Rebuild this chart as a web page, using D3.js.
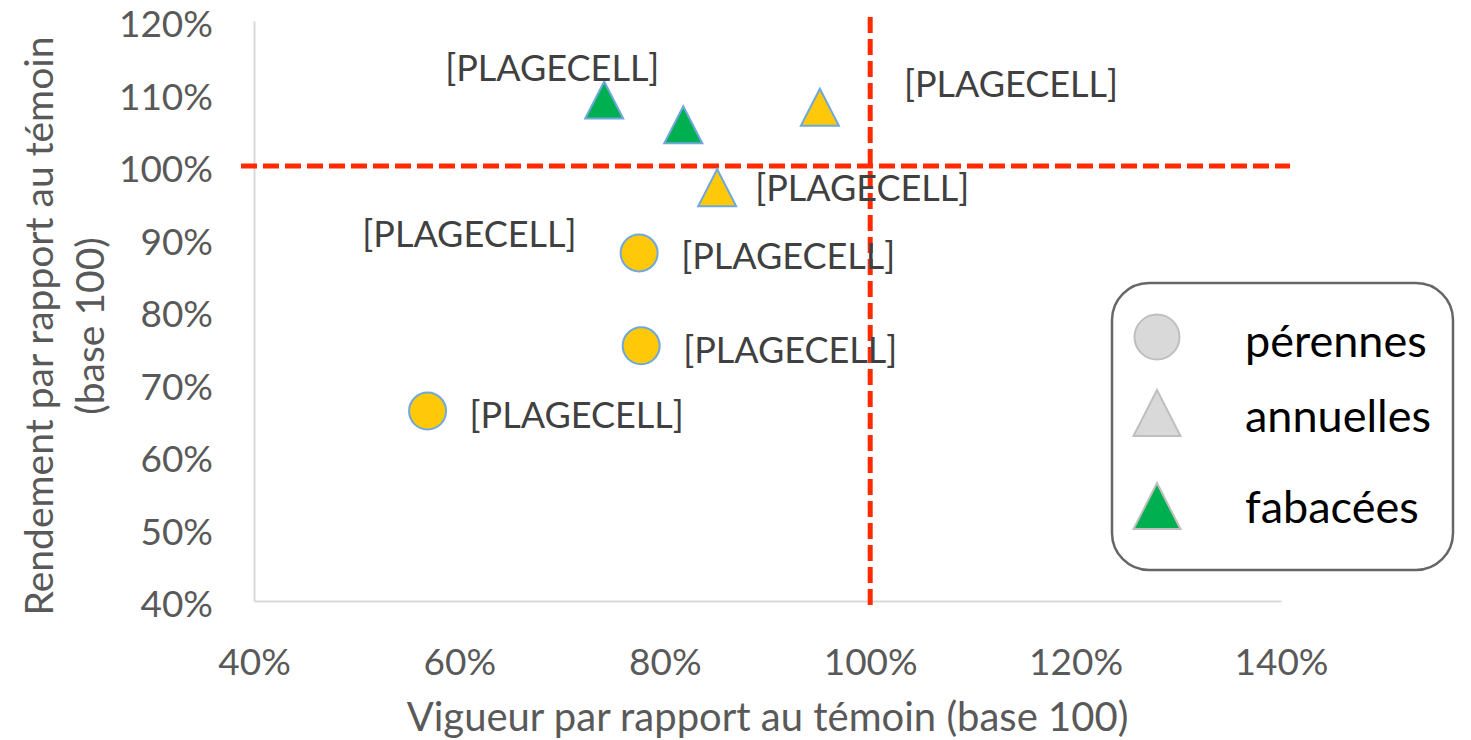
<!DOCTYPE html>
<html>
<head>
<meta charset="utf-8">
<script src="https://cdn.jsdelivr.net/npm/d3@7"></script>
<style>
  body { margin: 0; background: #fff; }
  text { font-family: Lato, "Open Sans", sans-serif; }
</style>
</head>
<body>
<div id="chart"></div>
<script>
// data (percent)
var vigueur   = [77.5, 77.7, 56.9, 95.1, 85.1, 74.1, 81.8];
var rendement = [88.0, 75.2, 66.2, 108.1, 97.0, 109.1, 105.7];
var groupe    = ["pérennes", "pérennes", "pérennes", "annuelles", "annuelles", "fabacées", "fabacées"];
var etiquettes = ["[PLAGECELL]", "[PLAGECELL]", "[PLAGECELL]", "[PLAGECELL]", "[PLAGECELL]", "[PLAGECELL]", "[PLAGECELL]"];
var groupes = ["pérennes", "annuelles", "fabacées"];
var xTicks = [40, 60, 80, 100, 120, 140];
var yTicks = [40, 50, 60, 70, 80, 90, 100, 110, 120];
var reference = 100;

// label nudges in px from the marker centre (left edge, vertical centre)
var labelNudge = [[42, 3], [42, 4], [42, 4], [84, -23], [38, 0], [-159, -32], [-321, 109]];

var width = 1471, height = 740;
var margin = { top: 21, right: 190, bottom: 139, left: 254 };

var x = d3.scaleLinear().domain([40, 140]).range([margin.left, width - margin.right]);
var y = d3.scaleLinear().domain([40, 120]).range([height - margin.bottom, margin.top]);

var svg = d3.select("#chart")
  .append("svg")
    .attr("width", width)
    .attr("height", height);

var fillOf = { "pérennes": "#FFC90A", "annuelles": "#FFC90A", "fabacées": "#00B050" };
var shapeOf = { "pérennes": "circle", "annuelles": "triangle", "fabacées": "triangle" };

function triangle(w, h) {
  return "M0," + (-h / 2) + "L" + (w / 2) + "," + (h / 2) + "L" + (-w / 2) + "," + (h / 2) + "Z";
}

// axes (no tick marks, Excel style)
var xAxis = svg.append("g")
  .attr("transform", "translate(0," + y(40) + ")")
  .call(d3.axisBottom(x).tickValues(xTicks).tickSize(0).tickPadding(0).tickFormat(d => d + "%"));
xAxis.select(".domain").attr("stroke", "#D9D9D9").attr("stroke-width", 2);
xAxis.selectAll("text")
  .attr("y", 61).attr("dy", "0.36em")
  .attr("fill", "#595959").style("font-size", "37px");

var yAxis = svg.append("g")
  .attr("transform", "translate(" + x(40) + ",0)")
  .call(d3.axisLeft(y).tickValues(yTicks).tickSize(0).tickPadding(0).tickFormat(d => d + "%"));
yAxis.select(".domain").attr("stroke", "#D9D9D9").attr("stroke-width", 2);
yAxis.selectAll("text")
  .attr("x", -41).attr("dy", "0.42em")
  .attr("fill", "#595959").style("font-size", "37px");

// axis titles
svg.append("text")
  .attr("x", (x(40) + x(140)) / 2)
  .attr("y", 731)
  .attr("text-anchor", "middle")
  .attr("fill", "#595959")
  .style("font-size", "40px")
  .text("Vigueur par rapport au témoin (base 100)");

var yTitle = svg.append("text")
  .attr("transform", "translate(53," + 326 + ") rotate(-90)")
  .attr("text-anchor", "middle")
  .attr("fill", "#595959")
  .style("font-size", "39px");
yTitle.append("tspan").attr("x", 0).attr("y", 0).text("Rendement par rapport au témoin");
yTitle.append("tspan").attr("x", 0).attr("y", 51).text("(base 100)");

// red dashed reference lines at 100 %
svg.append("line")
  .attr("x1", x(40) - 13).attr("x2", x(140) + 9)
  .attr("y1", y(reference)).attr("y2", y(reference))
  .attr("stroke", "#FF2A00").attr("stroke-width", 5)
  .attr("stroke-dasharray", "16,6");

svg.append("line")
  .attr("x1", x(reference)).attr("x2", x(reference))
  .attr("y1", y(120) - 4).attr("y2", y(40) + 6)
  .attr("stroke", "#FF2A00").attr("stroke-width", 5)
  .attr("stroke-dasharray", "16,6");

// markers
var points = vigueur.map((v, i) => ({ v: v, r: rendement[i], g: groupe[i], lab: etiquettes[i], n: labelNudge[i] }));

var marks = svg.append("g").selectAll("g")
  .data(points)
  .join("g")
    .attr("transform", d => "translate(" + x(d.v) + "," + y(d.r) + ")");

marks.filter(d => shapeOf[d.g] === "circle")
  .append("circle")
    .attr("r", 18.5)
    .attr("fill", d => fillOf[d.g])
    .attr("stroke", "#6FA8DC").attr("stroke-width", 2);

marks.filter(d => shapeOf[d.g] === "triangle")
  .append("path")
    .attr("d", triangle(38, 37))
    .attr("fill", d => fillOf[d.g])
    .attr("stroke", "#6FA8DC").attr("stroke-width", 2)
    .attr("stroke-linejoin", "miter");

// data labels
svg.append("g").selectAll("text")
  .data(points)
  .join("text")
    .attr("x", d => x(d.v) + d.n[0])
    .attr("y", d => y(d.r) + d.n[1])
    .attr("dy", "0.36em")
    .attr("fill", "#404040")
    .style("font-size", "36px")
    .text(d => d.lab);

// legend
var legend = svg.append("g");
legend.append("rect")
  .attr("x", 1112).attr("y", 283)
  .attr("width", 341).attr("height", 287)
  .attr("rx", 37).attr("ry", 37)
  .attr("fill", "#fff")
  .attr("stroke", "#666").attr("stroke-width", 2.5);

var legendY = [337, 413, 506];
var legendFill = { "pérennes": "#D9D9D9", "annuelles": "#D9D9D9", "fabacées": "#00B050" };

var items = legend.selectAll("g.item")
  .data(groupes)
  .join("g")
    .attr("class", "item")
    .attr("transform", (d, i) => "translate(1157," + legendY[i] + ")");

items.filter(d => shapeOf[d] === "circle")
  .append("circle")
    .attr("r", 22.5)
    .attr("fill", d => legendFill[d])
    .attr("stroke", "#BFBFBF").attr("stroke-width", 2);

items.filter(d => shapeOf[d] === "triangle")
  .append("path")
    .attr("d", triangle(47, 46))
    .attr("fill", d => legendFill[d])
    .attr("stroke", "#BFBFBF").attr("stroke-width", 2);

items.append("text")
  .attr("x", 88)
  .attr("y", (d, i) => [20, 19, 17][i])
  .attr("fill", "#000")
  .style("font-size", "45px")
  .text(d => d);
</script>
</body>
</html>
